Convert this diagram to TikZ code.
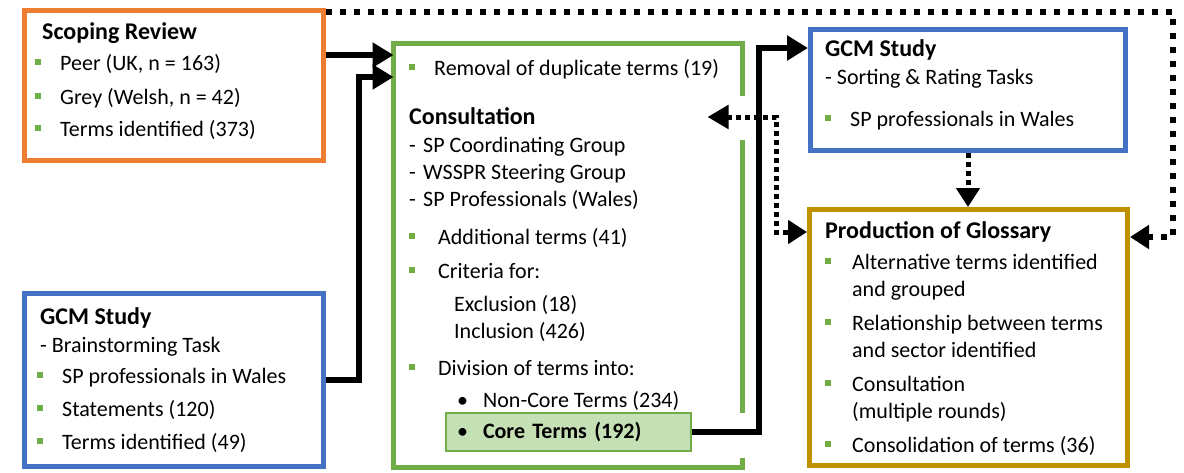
\documentclass[tikz,border=0pt]{standalone}
\usepackage{fontspec}
\setmainfont{Carlito}
\usetikzlibrary{arrows.meta,calc}

\definecolor{scoporange}{HTML}{ED7D31}
\definecolor{gcmblue}{HTML}{4472C4}
\definecolor{consgreen}{HTML}{70AD47}
\definecolor{corefill}{HTML}{C5E0B4}
\definecolor{glossgold}{HTML}{BF9000}

% green square bullet
\newcommand{\sqb}[1][25pt]{\makebox[#1][l]{\textcolor{consgreen}{\rule[5.5pt]{6pt}{6pt}}}}
% box titles
\newcommand{\ttl}[1]{{\fontsize{24}{27}\selectfont\bfseries #1}}

\tikzset{
    stagebox/.style={draw, line width=5pt, anchor=north west, inner sep=0},
    txt/.style={anchor=north west, inner sep=0, align=left, font=\fontsize{22}{27}\selectfont},
    flow/.style={line width=6pt, -{Triangle[length=21pt,width=24pt]}},
    dotflow/.style={line width=5pt, dash pattern=on 5pt off 4pt},
    loopdots/.style={line width=6pt, dash pattern=on 6pt off 8pt},
    dothead/.style={-{Triangle[length=19pt,width=23pt]}}
    }

\begin{document}
\begin{tikzpicture}[x=1pt, y=-1pt]
    \useasboundingbox (0,0) rectangle (1184,472);

    % The boxes
    \node[stagebox, draw=scoporange, minimum width=299pt, minimum height=150pt] (scop) at (22,8) {};
    \node[stagebox, draw=gcmblue, minimum width=299pt, minimum height=173pt] (gcmA) at (22,291) {};
    \node[anchor=north west, inner sep=0, outer sep=0, minimum width=349pt, minimum height=424pt] (cons) at (393.5,43.5) {};
    \node[stagebox, draw=gcmblue, minimum width=315pt, minimum height=121pt] (gcmB) at (808,27) {};
    \node[stagebox, draw=glossgold, minimum width=318pt, minimum height=256pt] (gloss) at (807,207) {};
    \node[anchor=north west, draw=consgreen, fill=corefill, line width=2pt, inner xsep=11pt, inner ysep=0,
          text width=223pt, align=left, minimum height=38pt, font=\fontsize{22}{27}\selectfont] (core) at (445,412)
          {\makebox[26pt][l]{\textbullet}\textbf{Core Terms (192)}};

    % consultation border, open on the right
    \draw[consgreen, line width=5pt] ($(cons.north east)+(0,52)$) -- (cons.north east) -- (cons.north west)
        -- (cons.south west) -- (cons.south east) -- ++(0,-10);
    \draw[consgreen, line width=5pt] ($(cons.north east)+(0,96)$) -- ($(cons.north east)+(0,369)$);

    % The texts
    \node[txt] (scoptxt) at (35,22) {\hspace*{7pt}\ttl{Scoping Review}\\[4pt]
        \sqb Peer (UK, n = 163)\\[7pt]
        \sqb Grey (Welsh, n = 42)\\[5pt]
        \sqb Terms identified (373)};
    \node[txt] (gcmAtxt) at (37,307) {\hspace*{3pt}\ttl{GCM Study}\\[1pt]
        \hspace*{3pt}- Brainstorming Task\\[4pt]
        \sqb SP professionals in Wales\\[6pt]
        \sqb Statements (120)\\[6pt]
        \sqb Terms identified (49)};
    \node[txt] (constxt) at (409,59) {\sqb[25pt]Removal of duplicate terms (19)\\[22pt]
        \ttl{Consultation}\\[1pt]
        \makebox[14pt][l]{-}SP Coordinating Group\\
        \makebox[14pt][l]{-}WSSPR Steering Group\\
        \makebox[14pt][l]{-}SP Professionals (Wales)\\[11pt]
        \sqb[29pt]Additional terms (41)\\[7pt]
        \sqb[29pt]Criteria for:\\[6pt]
        \hspace*{45pt}Exclusion (18)\\
        \hspace*{45pt}Inclusion (426)\\[10pt]
        \sqb[29pt]Division of terms into:\\[5pt]
        \hspace*{48pt}\makebox[26pt][l]{\textbullet}Non-Core Terms (234)};
    \node[txt] (gcmBtxt) at (825,39) {\ttl{GCM Study}\\[1pt]
        - Sorting \& Rating Tasks\\[15pt]
        \sqb SP professionals in Wales};
    \node[txt] (glosstxt) at (825,221) {\ttl{Production of Glossary}\\[4pt]
        \sqb[27pt]Alternative terms identified\\
        \hspace*{27pt}and grouped\\[7pt]
        \sqb[27pt]Relationship between terms\\
        \hspace*{27pt}and sector identified\\[7pt]
        \sqb[27pt]Consultation\\
        \hspace*{27pt}(multiple rounds)\\[7pt]
        \sqb[27pt]Consolidation of terms (36)};

    % The solid flows
    \coordinate (sr) at ($(scop.north east)+(0,47)$);
    \draw[flow] (sr) -- (sr -| cons.west);
    \draw[flow] (gcmA.east) -- ++(33,0) |- ($(cons.north west)+(0,33.5)$);
    \draw[flow] (core.east) -- ++(67,0) |- ($(gcmB.north west)+(0,21)$);

    % The dotted flows
    \draw[dotflow, {Triangle[length=21pt,width=23pt]}-{Triangle[length=19pt,width=23pt]}]
        ($(cons.north east)+(-35,73.5)$) -| ($(gloss.north west)+(-31,25)$) -- ($(gloss.north west)+(0,25)$);
    \draw[dotflow, dothead] (gcmB.south) -- (gcmB.south |- gloss.north);
    \coordinate (corner) at (1173,12);
    \draw[loopdots, dothead] ($(scop.north east)+(0,4)$) -- (corner) |- ($(gloss.north east)+(0,30)$);
\end{tikzpicture}
\end{document}
